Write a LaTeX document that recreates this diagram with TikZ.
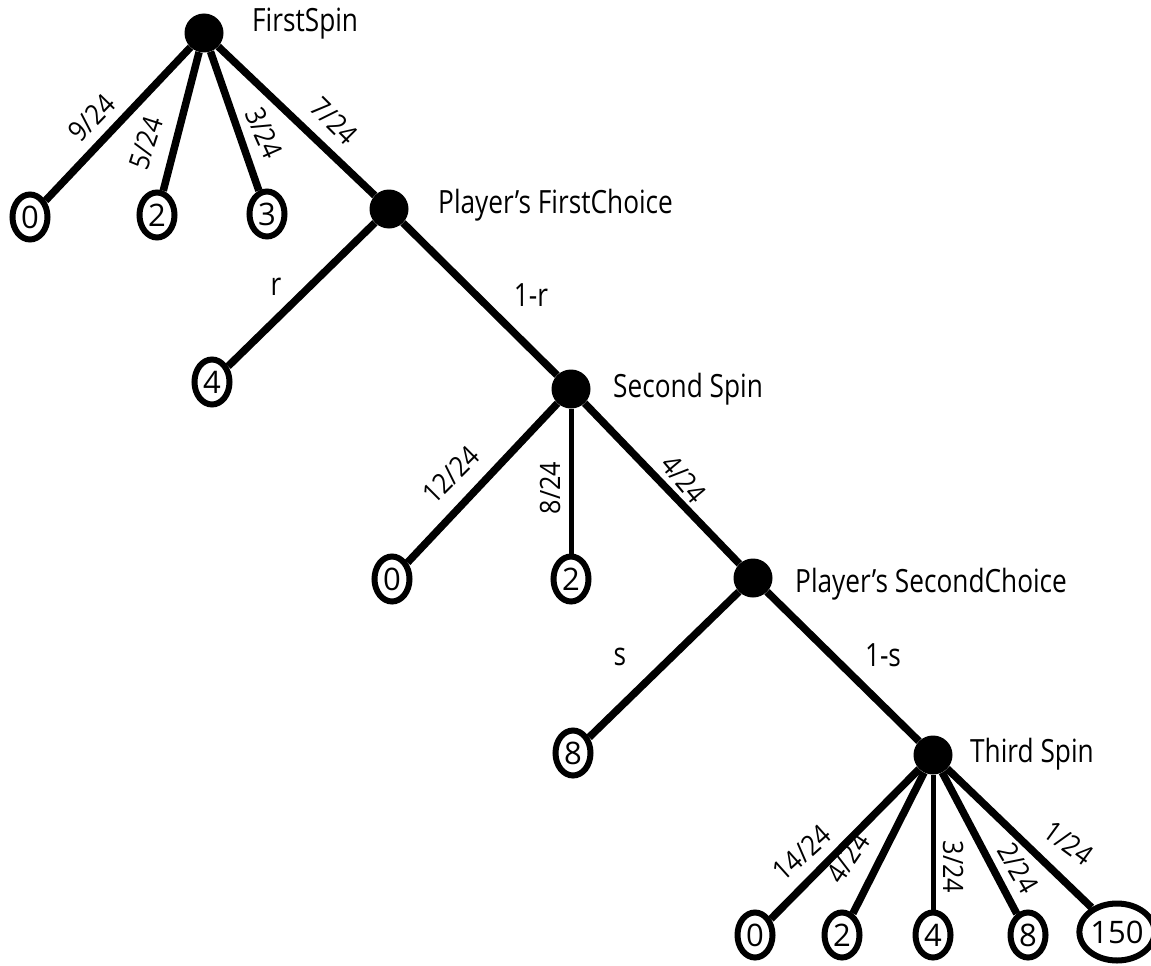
\documentclass[tikz,border=0pt]{standalone}
\usepackage{fontspec}
\setmainfont{Open Sans}
\newfontfamily\headfont[FakeStretch=0.82]{Open Sans}
\newfontfamily\numfont{Open Sans}
\newfontfamily\fracfont[FakeStretch=0.9]{Open Sans}
\usetikzlibrary{shapes.geometric}

\tikzset{
  chance/.style={circle, fill=black, minimum size=39pt, inner sep=0pt},
  leaf/.style={ellipse, draw=black, line width=6pt, fill=white,
    minimum width=35pt, minimum height=45pt, inner sep=0pt,
    font=\numfont\fontsize{31}{31}\selectfont},
  wideleaf/.style={leaf, minimum width=61pt, minimum height=57pt},
  branch/.style={line width=7.5pt},
  thinbranch/.style={line width=5pt},
  title/.style={anchor=base west, inner sep=0pt,
    font=\headfont\fontsize{32}{32}\selectfont},
  prob/.style={inner sep=0pt, font=\fracfont\fontsize{28}{28}\selectfont},
  choice/.style={inner sep=0pt, font=\headfont\fontsize{32}{32}\selectfont},
}

\begin{document}
\begin{tikzpicture}[x=1pt, y=-1pt]
\useasboundingbox (0,0) rectangle (1151,966);

% decision and chance points
\node[chance] (root) at (204,33) {};
\node[chance] (p1) at (389,209) {};
\node[chance] (s2) at (571,389) {};
\node[chance] (p2) at (753,578) {};
\node[chance] (s3) at (933,755) {};

% payoffs
\node[leaf] (a0) at (30,217) {0};
\node[leaf] (a2) at (157,215) {2};
\node[leaf] (a3) at (267,214) {3};
\node[leaf] (b4) at (212,382) {4};
\node[leaf] (c0) at (392,579) {0};
\node[leaf] (c2) at (571,579) {2};
\node[leaf] (d8) at (573,753) {8};
\node[leaf] (e0) at (755,935) {0};
\node[leaf] (e2) at (842,935) {2};
\node[leaf] (e4) at (933,935) {4};
\node[leaf] (e8) at (1028,935) {8};
\node[wideleaf] (e150) at (1117,932) {150};

% branches
\draw[branch] (root) -- (a0);
\draw[branch] (root) -- (a2);
\draw[branch] (root) -- (a3);
\draw[branch] (root) -- (p1);
\draw[branch] (p1) -- (b4);
\draw[branch] (p1) -- (s2);
\draw[branch] (s2) -- (c0);
\draw[thinbranch] (s2) -- (c2);
\draw[branch] (s2) -- (p2);
\draw[branch] (p2) -- (d8);
\draw[branch] (p2) -- (s3);
\draw[branch] (s3) -- (e0);
\draw[branch] (s3) -- (e2);
\draw[thinbranch] (s3) -- (e4);
\draw[branch] (s3) -- (e8);
\draw[branch] (s3) -- (e150);

% stage titles
\node[title] (t1) at (252,32) {FirstSpin};
\node[title] (t2) at (438,213) {Player’s FirstChoice};
\node[title] (t3) at (613,397) {Second Spin};
\node[title] (t4) at (795,592) {Player’s SecondChoice};
\node[title] (t5) at (970,762) {Third Spin};

% branch probabilities
\node[prob, rotate=46] (q1) at (92,118) {9/24};
\node[prob, rotate=72] (q2) at (146,143) {5/24};
\node[prob, rotate=-66] (q3) at (264,133) {3/24};
\node[prob, rotate=-45] (q4) at (334,121) {7/24};
\node[choice] (q5) at (276,287) {r};
\node[choice] (q6) at (531,295) {1-r};
\node[prob, rotate=45] (q7) at (451,475) {12/24};
\node[prob, rotate=90] (q8) at (550,488) {8/24};
\node[prob, rotate=-50] (q9) at (684,479) {4/24};
\node[choice] (q10) at (620,657) {s};
\node[choice] (q11) at (883,655) {1-s};
\node[prob, rotate=42] (q12) at (802,853) {14/24};
\node[prob, rotate=56] (q13) at (848,858) {4/24};
\node[prob, rotate=-90] (q14) at (953,867) {3/24};
\node[prob, rotate=-60] (q15) at (1018,868) {2/24};
\node[prob, rotate=-36] (q16) at (1069,843) {1/24};
\end{tikzpicture}
\end{document}
